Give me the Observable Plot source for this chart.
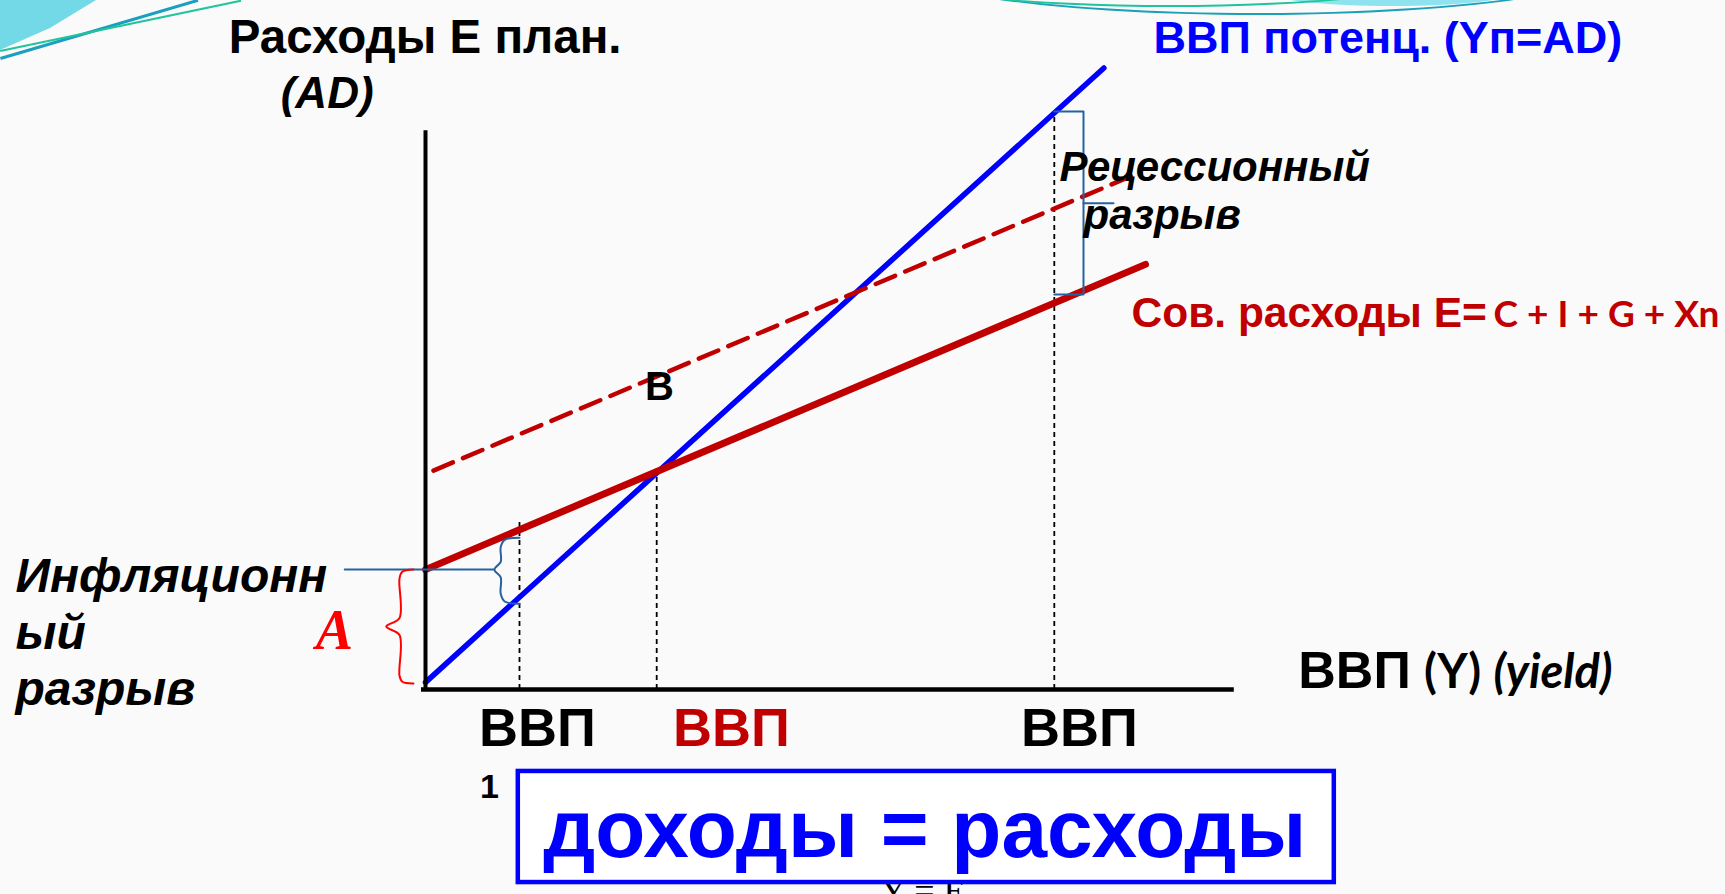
<!DOCTYPE html>
<html>
<head>
<meta charset="utf-8">
<script src="https://cdn.jsdelivr.net/npm/d3@7"></script>
<script src="https://cdn.jsdelivr.net/npm/@observablehq/plot@0.6"></script>
<style>
  html, body { margin: 0; padding: 0; background: #fafafa; width: 1725px; height: 894px; overflow: hidden; }
  #wrap { position: relative; width: 1725px; height: 894px; overflow: hidden; }
  #chart svg { display: block; }
  .deco { position: absolute; pointer-events: none; box-sizing: border-box; }
</style>
</head>
<body>
<div id="wrap">
  <div id="chart"></div>
  <!-- decorative slide-theme swooshes -->
  <div class="deco" style="left:0;top:0;width:96px;height:50px;background:#73d9e6;clip-path:polygon(0 0,100% 0,52% 56%,0 100%);"></div>
  <div class="deco" style="left:0;top:57px;width:206px;height:2.5px;background:#1b9fc0;transform:rotate(-16.4deg);transform-origin:0 0;"></div>
  <div class="deco" style="left:0;top:50px;width:246px;height:2px;background:#22c49b;transform:rotate(-11.8deg);transform-origin:0 0;"></div>
  <div class="deco" style="left:1272px;top:-20px;width:240px;height:26px;background:#8fe3ee;border-radius:50%;"></div>
  <div class="deco" style="left:868px;top:-105px;width:778px;height:120px;border:2px solid #1aa0b8;border-radius:50%;"></div>
  <div class="deco" style="left:905px;top:-53px;width:530px;height:60px;border:2px solid #20c49c;border-radius:50%;"></div>
</div>
<script>
// ---------- data (in chart units) ----------
// Потенциальный ВВП: Yп = AD (синяя линия)
const potentialX = [0, 84.8];
const potentialY = [1.3, 113];
// Совокупные расходы E = C + I + G + Xn (сплошная красная)
const spendingX = [0, 90];
const spendingY = [21.8, 77.3];
// Совокупные расходы после сдвига (пунктир)
const shiftedX = [1, 89.3];
const shiftedY = [39.8, 94];
// Уровни ВВП (вертикальные пунктиры) и их верхние точки
const gdpLevels = [11.75, 28.9, 78.6];
const gdpTops = [30.7, 40.2, 105];
// Подписи под осью X
const gdpLabels = ["ВВП", "ВВП", "ВВП"];
const gdpLabelX = [14, 38.25, 81.75];
const gdpLabelColors = ["#000000", "#c00000", "#000000"];
// Скобки разрывов
const recessionBracket = [[78.6, 105.1], [82.25, 105.1], [82.25, 71.8], [78.6, 71.8]];
const recessionTick = [[82.25, 88.4], [86, 88.4]];
const inflationBrace = [[11.75, 27.6], [9.9, 27.2], [9.4, 25.9], [9.4, 23.2], [8.6, 21.8], [9.4, 20.4], [9.4, 17.4], [9.9, 16.0], [11.75, 15.6]];
const inflationLeader = [[-10.1, 21.8], [8.6, 21.8]];
const aBrace = [[-1.5, 21.8], [-2.9, 21.4], [-3.25, 20.2], [-3.25, 13.0], [-4.9, 11.45], [-3.25, 9.9], [-3.25, 2.5], [-2.9, 1.4], [-1.5, 1.1]];
// Оси
const axisX = [-0.5, 101.1];
const axisY = [0, 101.6];
// Рамка "доходы = расходы"
const boxX = [11.6, 113.6];
const boxY = [-14.9, -35.1];

// ---------- tables ----------
const pts = (xs, ys) => xs.map((x, i) => ({x, y: ys[i]}));
const pairs = arr => arr.map(([x, y]) => ({x, y}));
const gdp = gdpLevels.map((x, i) => ({x, top: gdpTops[i]}));
const gdpText = gdpLabels.map((t, i) => ({t, x: gdpLabelX[i], c: gdpLabelColors[i]}));

const SANS = "'Liberation Sans', Arial, sans-serif";
const CAL = "Lato, 'Liberation Sans', sans-serif";
const SERIF = "'Liberation Serif', 'Times New Roman', serif";

const txt = (t, x, y, o) => Plot.text([{t}], {x: () => x, y: () => y, text: "t", lineAnchor: "bottom", textAnchor: "start", fontFamily: SANS, fontWeight: "bold", ...o});

const chart = Plot.plot({
  width: 1725,
  height: 894,
  margin: 0,
  style: {background: "transparent", overflow: "visible", fontFamily: SANS},
  x: {type: "linear", domain: [0, 100], range: [425, 1225], axis: null},
  y: {type: "linear", domain: [0, 100], range: [689, 139], axis: null},
  marks: [
    // partially hidden formula under the box
    txt("Y = E", 62.2, -38.8, {textAnchor: "middle", fontFamily: SERIF, fontWeight: "normal", fontSize: 36}),
    // vertical dashed GDP levels
    Plot.ruleX(gdp, {x: "x", y1: 0, y2: "top", stroke: "#000", strokeWidth: 1.8, strokeDasharray: "5,4"}),
    // potential GDP line
    Plot.line(pts(potentialX, potentialY), {x: "x", y: "y", stroke: "#0000ff", strokeWidth: 5.5}),
    // shifted spending (dashed)
    Plot.line(pts(shiftedX, shiftedY), {x: "x", y: "y", stroke: "#c00000", strokeWidth: 4.5, strokeDasharray: "21,11"}),
    // aggregate spending
    Plot.line(pts(spendingX, spendingY), {x: "x", y: "y", stroke: "#c00000", strokeWidth: 7}),
    // axes
    Plot.ruleX([0], {y1: axisY[0], y2: axisY[1], stroke: "#000", strokeWidth: 4}),
    Plot.ruleY([0], {x1: axisX[0], x2: axisX[1], stroke: "#000", strokeWidth: 4.5}),
    // brackets
    Plot.line(pairs(recessionBracket), {x: "x", y: "y", stroke: "#2462a0", strokeWidth: 2}),
    Plot.line(pairs(recessionTick), {x: "x", y: "y", stroke: "#2462a0", strokeWidth: 2}),
    Plot.line(pairs(inflationLeader), {x: "x", y: "y", stroke: "#2462a0", strokeWidth: 2}),
    Plot.line(pairs(inflationBrace), {x: "x", y: "y", stroke: "#2462a0", strokeWidth: 2, curve: "catmull-rom"}),
    Plot.line(pairs(aBrace), {x: "x", y: "y", stroke: "#ff0000", strokeWidth: 2, curve: "catmull-rom"}),
    // titles and labels
    txt("Расходы Е план.", -24.6, 115.8, {fontSize: 47.5}),
    txt("(AD)", -18.1, 105.8, {fontSize: 44, fontStyle: "italic"}),
    txt("ВВП потенц. (Yп=AD)", 91, 115.8, {fontSize: 45, fill: "#0000ff"}),
    txt("Рецессионный", 79.25, 92.4, {fontSize: 42, fontStyle: "italic"}),
    txt("разрыв", 82.25, 83.8, {fontSize: 42, fontStyle: "italic"}),
    txt("Сов. расходы Е=", 88.25, 66, {fontSize: 42.5, fill: "#c00000"}),
    txt("C + I + G + Xn", 161.75, 66, {fontSize: 37, fill: "#c00000", fontFamily: CAL, textAnchor: "end"}),
    txt("B", 29.25, 52.7, {fontSize: 40, textAnchor: "middle"}),
    txt("ВВП", 109.1, 0.2, {fontSize: 52}),
    txt("(Y)", 124.8, 0.2, {fontSize: 47, fontFamily: CAL}),
    txt("(yield)", 133.5, 0.2, {fontSize: 47, fontFamily: CAL, fontStyle: "italic"}),
    txt("Инфляционн\nый\nразрыв", -51.25, -2.9, {fontSize: 48, fontStyle: "italic", lineHeight: 1.18}),
    txt("A", -11.4, 7.3, {fontSize: 56, fontStyle: "italic", fontFamily: SERIF, fill: "#ff0000", textAnchor: "middle"}),
    Plot.text(gdpText, {x: "x", y: () => -10.2, text: "t", fill: "c", fontSize: 54, fontWeight: "bold", fontFamily: SANS, lineAnchor: "bottom", textAnchor: "middle"}),
    txt("1", 8, -19.8, {fontSize: 34, textAnchor: "middle"}),
    // box
    Plot.rect([{x1: boxX[0], x2: boxX[1], y1: boxY[0], y2: boxY[1]}], {x1: "x1", x2: "x2", y1: "y1", y2: "y2", fill: "#ffffff", stroke: "#0000ff", strokeWidth: 4.5}),
    txt("доходы = расходы", 62.4, -30.5, {fontSize: 82, fill: "#0000ff", textAnchor: "middle"})
  ]
});
document.getElementById("chart").appendChild(chart);
</script>
</body>
</html>
